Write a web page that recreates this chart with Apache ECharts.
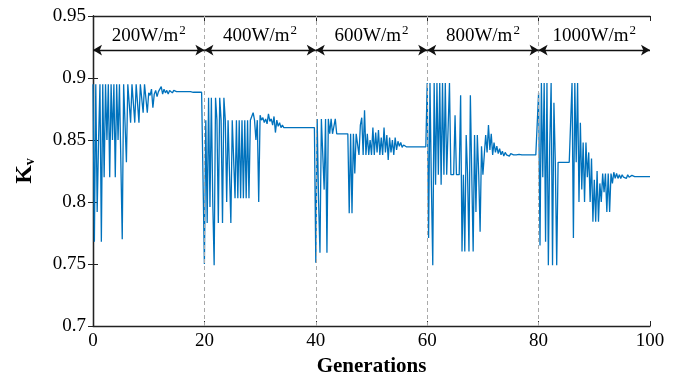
<!DOCTYPE html>
<html>
<head>
<meta charset="utf-8">
<script src="https://cdn.jsdelivr.net/npm/echarts@6/dist/echarts.min.js"></script>
<style>html,body{margin:0;padding:0;background:#fff}#c{width:680px;height:384px}</style>
</head>
<body>
<div id="c"></div>
<script>
// step between samples (generations)
var step = 0.25;
// Kv samples for each irradiance period (20 generations each)
var seg200 = [0.895,0.768,0.895,0.792,0.85,0.895,0.768,0.895,0.82,0.895,0.85,0.895,0.82,0.895,0.85,0.895,0.82,0.895,0.85,0.895,
  0.895,0.77,0.895,0.895,0.832,0.895,0.895,0.864,0.895,0.895,0.864,0.895,0.895,0.864,0.895,0.895,0.872,0.895,0.895,0.872,
  0.888,0.886,0.891,0.876,0.887,0.890,0.885,0.889,0.888,0.893,0.887,0.891,0.888,0.890,0.887,0.890,0.889,0.888,0.890,0.889,
  0.889,0.889,0.889,0.889,0.889,0.889,0.889,0.889,0.889,0.889,0.889,0.889,0.8885,0.8885,0.8885,0.8885,0.8885,0.8885,0.8885,0.8885];
var seg400 = [0.75,0.866,0.783,0.884,0.796,0.884,0.80,0.749,0.884,0.866,0.783,0.884,0.866,0.783,0.884,0.866,0.80,0.866,0.866,0.783,
  0.866,0.866,0.803,0.866,0.803,0.866,0.803,0.866,0.803,0.866,0.803,0.866,0.803,0.866,0.866,0.872,0.866,0.85,0.866,0.80,
  0.870,0.866,0.868,0.864,0.867,0.863,0.871,0.865,0.867,0.862,0.869,0.856,0.866,0.861,0.864,0.860,0.862,0.860,0.861,0.860,
  0.861,0.860,0.860,0.860,0.8615,0.860,0.860,0.860,0.8615,0.860,0.860,0.860,0.8615,0.860,0.860,0.860,0.860,0.860,0.860,0.860];
var seg600 = [0.751,0.867,0.80,0.759,0.867,0.867,0.81,0.867,0.759,0.867,0.855,0.867,0.855,0.855,0.867,0.855,0.855,0.855,0.855,0.855,
  0.855,0.855,0.855,0.855,0.791,0.855,0.791,0.855,0.823,0.855,0.855,0.838,0.862,0.868,0.838,0.874,0.838,0.855,0.838,0.850,
  0.838,0.860,0.838,0.856,0.840,0.858,0.838,0.852,0.838,0.860,0.840,0.854,0.834,0.852,0.840,0.850,0.838,0.852,0.842,0.849,
  0.845,0.848,0.844,0.846,0.8445,0.8445,0.8445,0.8445,0.8445,0.8445,0.8445,0.8445,0.8445,0.8445,0.8445,0.8445,0.8445,0.8445,0.8445,0.8445];
var seg800 = [0.896,0.771,0.896,0.814,0.749,0.896,0.814,0.896,0.822,0.896,0.814,0.896,0.822,0.896,0.822,0.822,0.896,0.822,0.822,0.822,
  0.870,0.822,0.822,0.822,0.886,0.760,0.822,0.760,0.854,0.822,0.760,0.886,0.822,0.760,0.854,0.792,0.854,0.822,0.776,0.845,
  0.822,0.838,0.854,0.840,0.862,0.842,0.855,0.838,0.848,0.840,0.845,0.839,0.843,0.838,0.841,0.837,0.840,0.838,0.839,0.837,
  0.839,0.838,0.838,0.8385,0.838,0.838,0.8385,0.838,0.838,0.838,0.838,0.8385,0.838,0.838,0.838,0.838,0.838,0.838,0.838,0.838];
var seg1000 = [0.888,0.765,0.896,0.820,0.896,0.768,0.896,0.749,0.846,0.896,0.749,0.880,0.832,0.749,0.832,0.832,0.832,0.832,0.832,0.832,
  0.832,0.832,0.832,0.832,0.896,0.771,0.896,0.832,0.896,0.800,0.864,0.810,0.848,0.800,0.848,0.820,0.840,0.800,0.835,0.784,
  0.818,0.784,0.825,0.784,0.815,0.800,0.823,0.808,0.823,0.792,0.823,0.792,0.823,0.815,0.824,0.819,0.823,0.819,0.822,0.819,
  0.822,0.820,0.821,0.819,0.822,0.820,0.8205,0.8215,0.8205,0.8205,0.8215,0.8205,0.8205,0.8205,0.8215,0.8205,0.8205,0.8205,0.8205,0.8205,0.8205];
// irradiance periods
var periodLabels = ['200', '400', '600', '800', '1000'];
var periodBounds = [0, 20, 40, 60, 80, 100];
var arrowLevel = 0.9225;

var kv = seg200.concat(seg400, seg600, seg800, seg1000);
var data = kv.map(function (v, i) { return [i * step, v]; });

var font = 'Liberation Serif';
var arrowLines = [];
for (var i = 0; i < periodLabels.length; i++) {
  arrowLines.push([
    { coord: [periodBounds[i], arrowLevel], name: periodLabels[i] },
    { coord: [periodBounds[i + 1], arrowLevel] }
  ]);
}
var dashLines = periodBounds.slice(1, -1).map(function (b) { return { xAxis: b }; });

var chart = echarts.init(document.getElementById('c'), null, { renderer: 'canvas' });
chart.setOption({
  animation: false,
  grid: { left: 93, right: 30, top: 16, bottom: 58 },
  xAxis: [{
    type: 'value', min: 0, max: 100, interval: 20,
    name: 'Generations', nameLocation: 'middle', nameGap: 30,
    nameTextStyle: { fontFamily: font, fontWeight: 'bold', fontSize: 21, color: '#000' },
    axisLine: { lineStyle: { color: '#222', width: 1.3 } },
    axisTick: { inside: true, length: 5, lineStyle: { color: '#222' } },
    axisLabel: { fontFamily: font, fontSize: 19, color: '#000', margin: 6 },
    splitLine: { show: false }
  }, {
    type: 'value', min: 0, max: 100, interval: 20, position: 'top',
    axisLine: { show: true, lineStyle: { color: '#222', width: 1.3 } },
    axisTick: { inside: true, length: 5, lineStyle: { color: '#222' } },
    axisLabel: { show: false }, splitLine: { show: false }
  }],
  yAxis: [{
    type: 'value', min: 0.7, max: 0.95, interval: 0.05,
    name: '{k|K}{v|v}', nameLocation: 'middle', nameGap: 56, nameRotate: 90,
    nameTextStyle: { rich: {
      k: { fontFamily: font, fontWeight: 'bold', fontSize: 24, color: '#000' },
      v: { fontFamily: font, fontWeight: 'bold', fontSize: 14, color: '#000', padding: [10, 0, 0, 0] }
    } },
    axisLine: { show: true, lineStyle: { color: '#222', width: 1.3 } },
    axisTick: { inside: true, length: 5, lineStyle: { color: '#222' } },
    axisLabel: { fontFamily: font, fontSize: 19, color: '#000', margin: 7,
      formatter: function (v) { return String(Math.round(v * 100) / 100); } },
    splitLine: { show: false }
  }, {
    type: 'value', min: 0.7, max: 0.95, interval: 0.05, position: 'right',
    axisLine: { show: true, lineStyle: { color: '#222', width: 1.3 } },
    axisTick: { inside: true, length: 5, lineStyle: { color: '#222' } },
    axisLabel: { show: false }, splitLine: { show: false }
  }],
  series: [{
    type: 'line', data: data, showSymbol: false, symbol: 'none',
    lineStyle: { color: '#0072BD', width: 1.3 },
    markLine: {
      silent: true, animation: false,
      data: dashLines,
      symbol: ['none', 'none'],
      lineStyle: { color: '#aaa', type: [4, 3], width: 1 },
      label: { show: false }
    }
  }, {
    type: 'line', data: [], silent: true,
    markLine: {
      silent: true, animation: false,
      symbol: ['arrow', 'arrow'], symbolSize: [8, 9],
      data: arrowLines,
      lineStyle: { color: '#111', type: 'solid', width: 1.3 },
      label: {
        show: true, position: 'middle', distance: 3,
        formatter: function (p) { return '{a|' + p.name + 'W/m}{s|2}'; },
        rich: {
          a: { fontFamily: font, fontSize: 19, color: '#000' },
          s: { fontFamily: font, fontSize: 13, color: '#000', padding: [0, 0, 10, 1] }
        }
      }
    }
  }]
});
</script>
</body>
</html>
